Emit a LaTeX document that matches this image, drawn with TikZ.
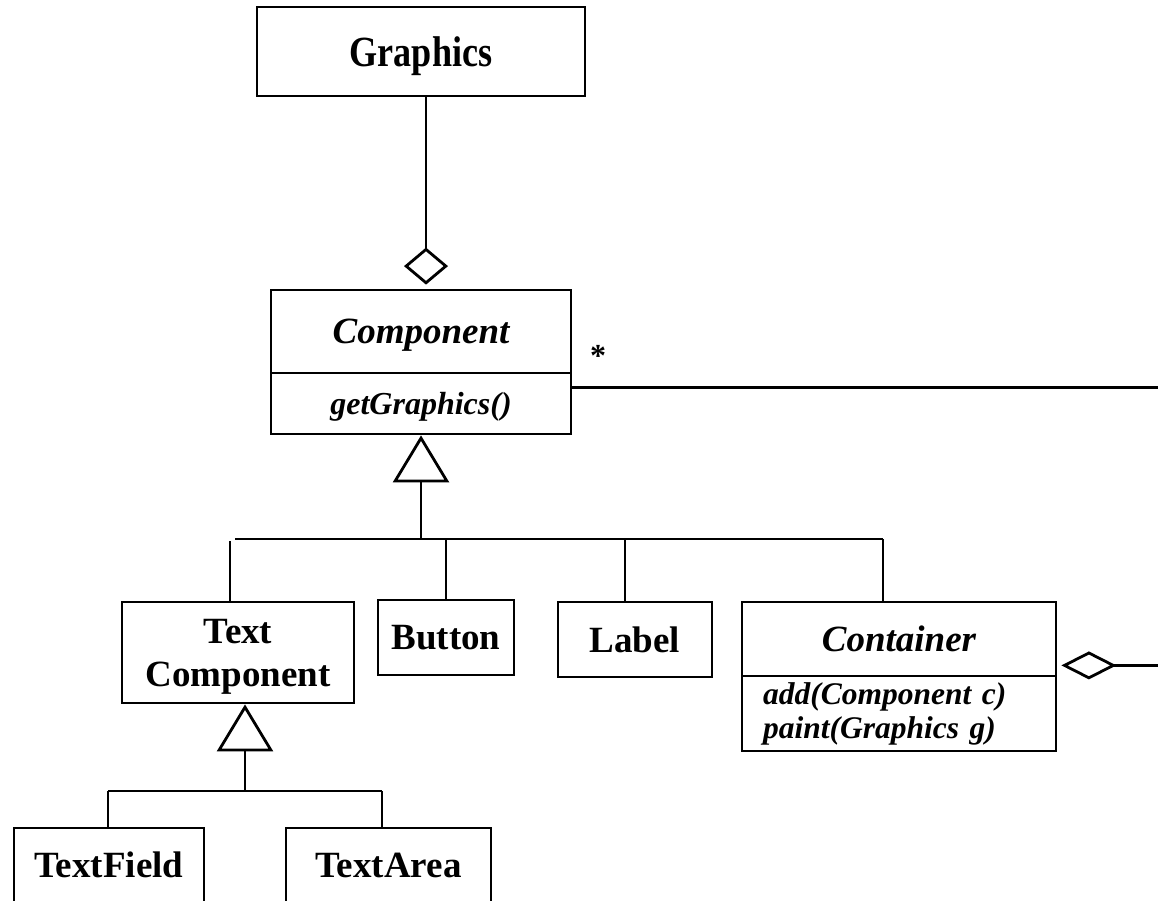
\documentclass[tikz,border=0pt]{standalone}
\usepackage{fontspec}
\setmainfont{Liberation Serif}
\newfontfamily\narrowserif{Liberation Serif}[FakeStretch=0.84]
\usetikzlibrary{arrows.meta,calc}
\begin{document}
\begin{tikzpicture}[x=1pt,y=-1pt,
  line width=2.8pt,
  cls/.style={draw, rectangle, inner sep=0pt, align=center, text depth=0pt,
    font=\fontsize{37}{43}\selectfont\bfseries},
  abstractcls/.style={cls, font=\fontsize{37}{43}\selectfont\bfseries\itshape},
  ops/.style={draw, rectangle, inner sep=0pt, text depth=0pt,
    font=\fontsize{32}{36}\selectfont\bfseries\itshape},
  gen/.style={-{Triangle[open,length=47pt,width=56pt]}},
  agg/.style={-{Diamond[open,length=37pt,width=44pt]}},
]
\useasboundingbox (0,0) rectangle (1158,901);
\fill[white] (0,0) rectangle (1158,901);
\clip (0,0) rectangle (1158,901);

% classes
\node[cls, minimum width=328, minimum height=89,
  font=\fontsize{43}{48}\narrowserif\bfseries] (graphics) at (421,51.5) {Graphics};
\node[abstractcls, minimum width=300, minimum height=83] (comp) at (421,331.5) {Component};
\node[ops, minimum width=300, minimum height=61] (compops) at (421,403.5) {getGraphics()};
\node[cls, minimum width=232, minimum height=101] (textcomp) at (238,652.5) {Text\\Component};
\node[cls, minimum width=136, minimum height=75] (button) at (446,637.5) {Button};
\node[cls, minimum width=154, minimum height=75] (label) at (635,639.5) {Label};
\node[abstractcls, minimum width=314, minimum height=74] (cont) at (899,639) {Container};
\node[draw, rectangle, inner sep=0pt, align=left, text width=314,
  minimum height=75, font=\fontsize{31.5}{34}\selectfont\bfseries\itshape] (contops) at (899,713.5)
  {\hspace*{21pt}add(Component c)\\\hspace*{21pt}paint(Graphics g)};
\node[cls, minimum width=190, minimum height=74] (textfield) at (109,865) {TextField};
\node[cls, minimum width=205, minimum height=74] (textarea) at (388.5,865) {TextArea};

% helper points
\coordinate (busL) at (235,539);
\coordinate (busR) at (883,539);
\coordinate (tcTop) at (230,541);
\coordinate (bus2L) at (108,791);
\coordinate (bus2R) at (382,791);
\coordinate (edgeA) at (1160,386);
\coordinate (edgeB) at (1160,664);
\coordinate (gTop) at ([xshift=5]graphics.south);
\coordinate (cTop) at ([xshift=5]comp.north);
\coordinate (labelTop) at ([xshift=-10]label.north);
\coordinate (contTop) at ([xshift=-16]cont.north);
\coordinate (tcBot) at ([xshift=7]textcomp.south);
\coordinate (compR) at ([yshift=-13]comp.south east);
\coordinate (contR) at ([xshift=4,yshift=12]cont.south east);

% Graphics aggregated by Component
\draw[agg, shorten >=4pt] (gTop) -- (cTop);

% Component hierarchy
\draw[gen] (compops.south |- busL) -- (compops.south);
\draw (busL) -- (busR);
\draw (tcTop) -- (tcTop |- textcomp.north);
\draw (button.north |- busL) -- (button.north);
\draw (labelTop |- busL) -- (labelTop);
\draw (contTop |- busL) -- (contTop);

% TextComponent hierarchy
\draw[gen] (tcBot |- bus2L) -- (tcBot);
\draw (bus2L) -- (bus2R);
\draw (bus2L) -- (bus2L |- textfield.north);
\draw (bus2R) -- (bus2R |- textarea.north);

% Component -- Container association
\draw (compR) -- (compR -| edgeA);
\node[font=\fontsize{32}{36}\selectfont\bfseries] (mult) at (598,356) {*};
\draw[-{Diamond[open,length=55pt,width=28pt]}] (contR -| edgeB) -- (contR);
\end{tikzpicture}
\end{document}
